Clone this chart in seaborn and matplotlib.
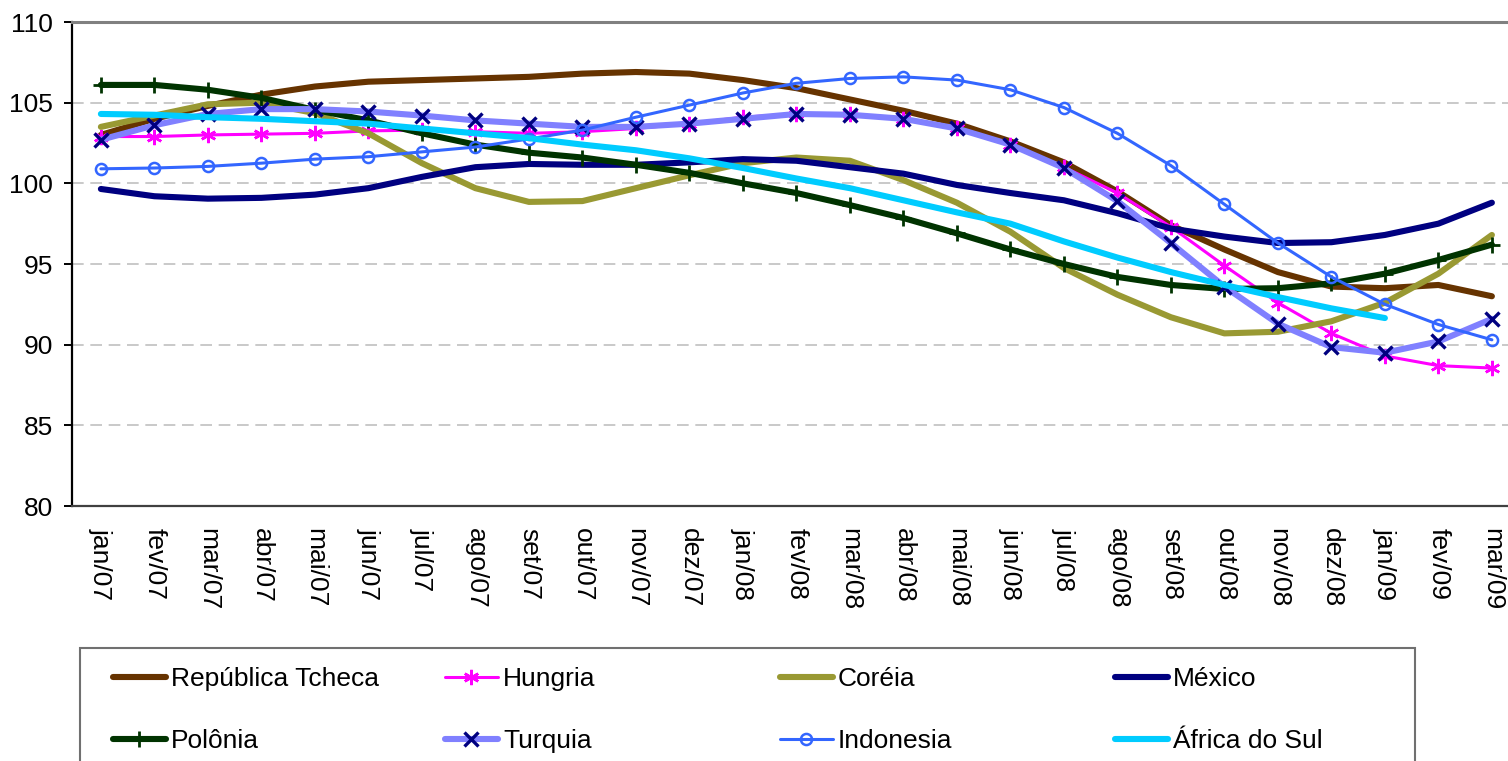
import matplotlib
matplotlib.use("Agg")
import matplotlib.pyplot as plt
from matplotlib import font_manager
from matplotlib.patches import Rectangle
import pandas as pd
import seaborn as sns

months = ["jan/07", "fev/07", "mar/07", "abr/07", "mai/07", "jun/07", "jul/07",
          "ago/07", "set/07", "out/07", "nov/07", "dez/07", "jan/08", "fev/08",
          "mar/08", "abr/08", "mai/08", "jun/08", "jul/08", "ago/08", "set/08",
          "out/08", "nov/08", "dez/08", "jan/09", "fev/09", "mar/09"]

rep_tcheca = [103.0, 104.0, 104.8, 105.5, 106.0, 106.3, 106.4, 106.5, 106.6, 106.8,
              106.9, 106.8, 106.4, 105.9, 105.2, 104.5, 103.7, 102.6, 101.3, 99.5,
              97.4, 95.9, 94.5, 93.6, 93.5, 93.7, 93.0]
hungria = [102.9, 102.9, 103.0, 103.05, 103.1, 103.25, 103.3, 103.2, 103.1, 103.2,
           103.4, 103.7, 104.1, 104.3, 104.3, 104.0, 103.4, 102.4, 101.0, 99.4,
           97.3, 94.9, 92.6, 90.7, 89.3, 88.7, 88.55]
coreia = [103.5, 104.2, 104.9, 105.0, 104.35, 103.1, 101.25, 99.7, 98.85, 98.9,
          99.7, 100.5, 101.25, 101.6, 101.4, 100.2, 98.8, 97.0, 94.75, 93.1,
          91.7, 90.7, 90.8, 91.45, 92.6, 94.4, 96.8]
mexico = [99.65, 99.2, 99.05, 99.1, 99.3, 99.7, 100.4, 101.0, 101.2, 101.15,
          101.15, 101.3, 101.5, 101.4, 101.0, 100.6, 99.9, 99.4, 98.95, 98.15,
          97.2, 96.7, 96.3, 96.35, 96.8, 97.5, 98.8]
polonia = [106.1, 106.1, 105.8, 105.3, 104.55, 103.9, 103.1, 102.4, 101.9, 101.6,
           101.15, 100.65, 100.0, 99.4, 98.65, 97.85, 96.9, 95.9, 95.0, 94.2,
           93.7, 93.45, 93.5, 93.8, 94.4, 95.25, 96.2]
turquia = [102.7, 103.6, 104.3, 104.6, 104.6, 104.45, 104.2, 103.9, 103.7, 103.5,
           103.5, 103.7, 104.0, 104.3, 104.25, 104.0, 103.4, 102.4, 100.95, 98.9,
           96.3, 93.6, 91.3, 89.85, 89.5, 90.2, 91.6]
indonesia = [100.9, 100.95, 101.05, 101.25, 101.5, 101.65, 101.95, 102.25, 102.75, 103.3,
             104.1, 104.85, 105.6, 106.2, 106.5, 106.6, 106.4, 105.8, 104.7, 103.1,
             101.1, 98.7, 96.3, 94.2, 92.5, 91.25, 90.3]
africa_sul = [104.3, 104.25, 104.1, 104.0, 103.85, 103.7, 103.4, 103.1, 102.8, 102.4,
              102.05, 101.55, 100.95, 100.3, 99.7, 98.95, 98.2, 97.5, 96.4, 95.4,
              94.5, 93.7, 92.95, 92.25, 91.65]

series = [
    ("República Tcheca", rep_tcheca, dict(color="#663300", lw=4.4)),
    ("Hungria", hungria, dict(color="#FF00FF", lw=2.2, marker=(6, 2, 0), ms=11,
                              mec="#FF00FF", mew=1.8)),
    ("Coréia", coreia, dict(color="#999933", lw=4.4)),
    ("México", mexico, dict(color="#000080", lw=4.4)),
    ("Polônia", polonia, dict(color="#003300", lw=4.4, marker="+", ms=12,
                              mec="#003300", mew=2)),
    ("Turquia", turquia, dict(color="#8080FF", lw=4.4, marker="x", ms=10,
                              mec="#000080", mew=2.4)),
    ("Indonesia", indonesia, dict(color="#3366FF", lw=2.2, marker="o", ms=8,
                                  mfc="none", mec="#3366FF", mew=1.8)),
    ("África do Sul", africa_sul, dict(color="#00CCFF", lw=4.4)),
]

sns.set_theme(style="white")
names = {f.name for f in font_manager.fontManager.ttflist}
base_font = "Liberation Sans Narrow" if "Liberation Sans Narrow" in names else "Liberation Sans"
plt.rcParams["font.family"] = [base_font, "DejaVu Sans"]
plt.rcParams["text.color"] = "black"
plt.rcParams["xtick.color"] = "black"
plt.rcParams["ytick.color"] = "black"

W, H = 1508, 761
fig = plt.figure(figsize=(W / 100, H / 100), dpi=100)
ax = fig.add_axes([72 / W, 1 - 506 / H, (W - 72) / W, 484 / H])

handles = {}
for name, vals, style in series:
    df = pd.DataFrame({"x": range(len(vals)), "y": vals})
    sns.lineplot(data=df, x="x", y="y", ax=ax, label=name, legend=False,
                 solid_capstyle="round", **style)
    handles[name] = ax.lines[-1]

ax.set_xlim(-0.54, -0.54 + (W - 72) / 53.5)
ax.set_ylim(80, 110)
ax.set_yticks(range(80, 111, 5))
ax.set_xticks(range(len(months)))
ax.set_xticklabels(months, rotation=270, va="top", ha="center")
ax.set_xlabel("")
ax.set_ylabel("")
ax.tick_params(axis="y", direction="out", length=5.8, width=1.4, pad=8,
               labelsize=19, colors="black", left=True)
ax.tick_params(axis="x", length=0, pad=16, labelsize=19, colors="black")

for yv in (85, 90, 95, 100, 105):
    ax.axhline(yv, color="#C0C0C0", lw=1.2, ls=(0, (7, 4)), zorder=0)

ax.spines["right"].set_visible(False)
ax.spines["top"].set_color("#808080")
ax.spines["top"].set_linewidth(2.2)
ax.spines["left"].set_color("black")
ax.spines["left"].set_linewidth(1.6)
ax.spines["bottom"].set_color("#404040")
ax.spines["bottom"].set_linewidth(1.6)

# legend: four columns placed independently so they sit at equal spacing
columns = [("República Tcheca", "Polônia"), ("Hungria", "Turquia"),
           ("Coréia", "Indonesia"), ("México", "África do Sul")]
col_x = [113, 445, 780, 1115]
for cx, pair in zip(col_x, columns):
    fig.legend([handles[n] for n in pair], list(pair), loc="center left",
               bbox_to_anchor=(cx / W, 1 - 710 / H), frameon=False,
               fontsize=19, handlelength=2.0, handletextpad=0.2,
               borderpad=0, borderaxespad=0, labelspacing=1.42,
               labelcolor="black")

fig.add_artist(Rectangle((80 / W, -0.1), 1335 / W, 0.1 + (1 - 648 / H),
                         transform=fig.transFigure, fill=False,
                         edgecolor="#707070", lw=1.5, clip_on=False))

fig.savefig("out.png", dpi=100)
